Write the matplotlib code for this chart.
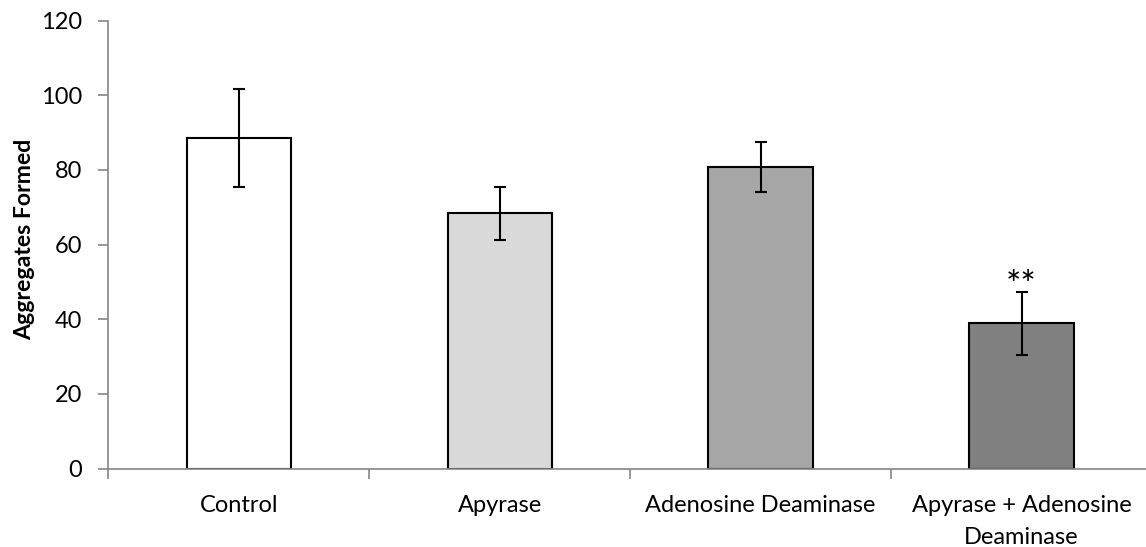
import matplotlib
matplotlib.use("Agg")
import matplotlib.pyplot as plt
import numpy as np

# Aggregation counts per treatment (mean ± error)
categories = ["Control", "Apyrase", "Adenosine Deaminase", "Apyrase + Adenosine\nDeaminase"]
means = [88.6, 68.4, 80.7, 38.9]
errors = [13.1, 7.1, 6.7, 8.5]
bar_colors = ["#ffffff", "#d9d9d9", "#a6a6a6", "#808080"]
significance = ["", "", "", "**"]
y_ticks = [0, 20, 40, 60, 80, 100, 120]

plt.rcParams["font.family"] = ["Lato", "DejaVu Sans"]

W, H, DPI = 1146, 547, 100
fig = plt.figure(figsize=(W / DPI, H / DPI), dpi=DPI)

left_px, right_px = 108.3, 1152.0
bottom_px, top_px = 468.5, 20.7
ax = fig.add_axes([left_px / W, (H - bottom_px) / H,
                   (right_px - left_px) / W, (bottom_px - top_px) / H])

FS = 17

x = np.arange(len(categories))
ax.bar(x, means, width=0.4, color=bar_colors, edgecolor="black", linewidth=1.5, zorder=2)
ax.errorbar(x, means, yerr=errors, fmt="none", ecolor="black", elinewidth=1.5,
            capsize=4.2, capthick=1.5, zorder=3)

for xi, m, e, s in zip(x, means, errors, significance):
    if s:
        ax.text(xi, m + e - 3.0, s, ha="center", va="bottom", fontsize=26)

ax.set_xlim(-0.5, len(categories) - 0.5)
ax.set_ylim(0, 120)
ax.set_yticks(y_ticks)
ax.set_yticklabels([str(v) for v in y_ticks], fontsize=FS)

# category labels at centers, tick marks at category boundaries
ax.set_xticks(np.arange(-0.5, len(categories), 1.0))
ax.set_xticklabels([])
ax.set_xticks(x, minor=True)
ax.set_xticklabels(categories, minor=True, fontsize=FS, linespacing=1.65)
ax.tick_params(axis="x", which="minor", length=0, pad=19)
ax.tick_params(axis="x", which="major", length=7, width=1.2, color="#868686", direction="out")
ax.tick_params(axis="y", length=7, width=1.2, color="#868686", direction="out", pad=12)

for side in ["top", "right"]:
    ax.spines[side].set_visible(False)
for side in ["left", "bottom"]:
    ax.spines[side].set_color("#868686")
    ax.spines[side].set_linewidth(1.2)

fig.text(25 / W, 1 - 239 / H, "Aggregates Formed", rotation=90, ha="center", va="center",
         fontsize=16.6, fontweight="bold")

fig.savefig("out.png", dpi=DPI)
